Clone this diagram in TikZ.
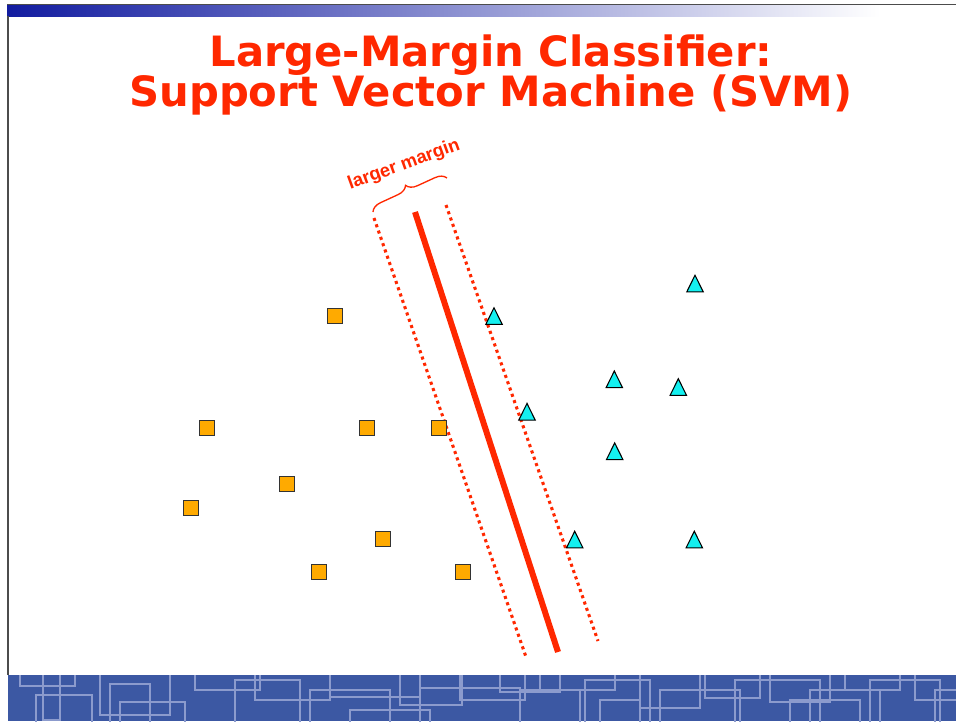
\documentclass[tikz,border=0pt]{standalone}
\usepackage{fontspec}
\usetikzlibrary{shapes.geometric,decorations.pathreplacing}
\newfontfamily\titlefont{DejaVu Sans}
\newfontfamily\labelfont{Liberation Sans}
\definecolor{svmred}{RGB}{255,40,0}
\definecolor{svmorange}{RGB}{255,170,0}
\definecolor{svmcyan}{RGB}{20,240,240}
\definecolor{barblue}{RGB}{18,28,160}
\definecolor{bandblue}{RGB}{60,88,163}
\definecolor{bandline}{RGB}{140,155,205}

\begin{document}
\begin{tikzpicture}[x=0.75pt, y=-0.75pt,
      every node/.append style={inner sep=0pt},
      square/.style={draw=black!80, line width=0.9pt, fill=svmorange, minimum size=11.6pt},
      triangle/.style={regular polygon, regular polygon sides=3, draw=black, line width=0.8pt,
        fill=svmcyan, minimum size=14.2pt, yscale=1.17}]
    \tikzstyle{title} = [font=\titlefont\bfseries\fontsize{31.3}{36}\selectfont, text=svmred, anchor=base]
    \tikzstyle{margin} = [draw=svmred, line width=2.3pt, dash pattern=on 2.3pt off 2.7pt]
    \useasboundingbox (0,0) rectangle (956,721);
    \fill[white] (0,0) rectangle (956,721);
    \shade[left color=barblue, right color=white] (7,4) rectangle (880,16);
    \fill[white] (880,4) rectangle (956,16);
    \draw[black!70, line width=1.2pt] (7,4.5) -- (956,4.5);
    \draw[black!70, line width=0.8pt] (8,16) -- (8,675);
    \fill[bandblue] (8,675) rectangle (956,721);
    \begin{scope}
      \clip (8,675) rectangle (956,721);
      \foreach \xa/\ya/\xb/\yb in {20/668/75/686, 36/695/92/740, 43/668/60/720, 100/668/170/715,
          120/702/185/740, 110/684/150/730, 195/668/260/690, 235/680/300/740, 255/668/330/700,
          310/690/390/740, 330/668/420/697, 350/710/430/740, 400/668/462/705, 420/688/520/740,
          460/668/525/700, 500/668/560/692, 520/690/580/740, 540/668/615/690, 585/680/650/740,
          600/700/640/740, 640/668/700/708, 660/690/740/740, 705/668/760/698, 735/680/820/740,
          770/668/830/702, 790/700/860/740, 810/690/880/740, 845/668/900/690, 870/680/940/740,
          915/668/960/700, 935/690/960/740}
        \draw[bandline, line width=1.9pt] (\xa,\ya) rectangle (\xb,\yb);
    \end{scope}
    \node[title] (title1) at (491,66.7) {Large-Margin Classifier:};
    \node[title] (title2) at (491,106.7) {Support Vector Machine (SVM)};
    \coordinate (hTop) at (415,212);
    \coordinate (hBot) at (558,652);
    \coordinate (mLTop) at (374,218);
    \coordinate (mLBot) at (526,657);
    \coordinate (mRTop) at (446,205);
    \coordinate (mRBot) at (598,641);
    \coordinate (bL) at (373,212);
    \coordinate (bR) at (447,178);
    \draw[svmred, line width=4.5pt] (hTop) -- (hBot);
    \draw[margin] (mLTop) -- (mLBot);
    \draw[margin] (mRTop) -- (mRBot);
    \draw[svmred, line width=1pt, decorate, decoration={brace, amplitude=8pt}] (bL) -- (bR);
    \node[font=\labelfont\bfseries\fontsize{13.8}{16}\selectfont, text=svmred, rotate=20] (marginLabel) at (404,165) {larger margin};
    \node[square] (s1) at (335,316) {};
    \node[square] (s2) at (207,428) {};
    \node[square] (s3) at (367,428) {};
    \node[square] (s4) at (439,428) {};
    \node[square] (s5) at (287,484) {};
    \node[square] (s6) at (191,508) {};
    \node[square] (s7) at (383,539) {};
    \node[square] (s8) at (319,572) {};
    \node[square] (s9) at (463,572) {};
    \node[triangle] (t1) at (695,286.3) {};
    \node[triangle] (t2) at (494,318.8) {};
    \node[triangle] (t3) at (614.3,382.1) {};
    \node[triangle] (t4) at (678.3,389.8) {};
    \node[triangle] (t5) at (527,414.5) {};
    \node[triangle] (t6) at (614.7,454) {};
    \node[triangle] (t7) at (574.7,542.3) {};
    \node[triangle] (t8) at (694.3,542.3) {};
\end{tikzpicture}
\end{document}
